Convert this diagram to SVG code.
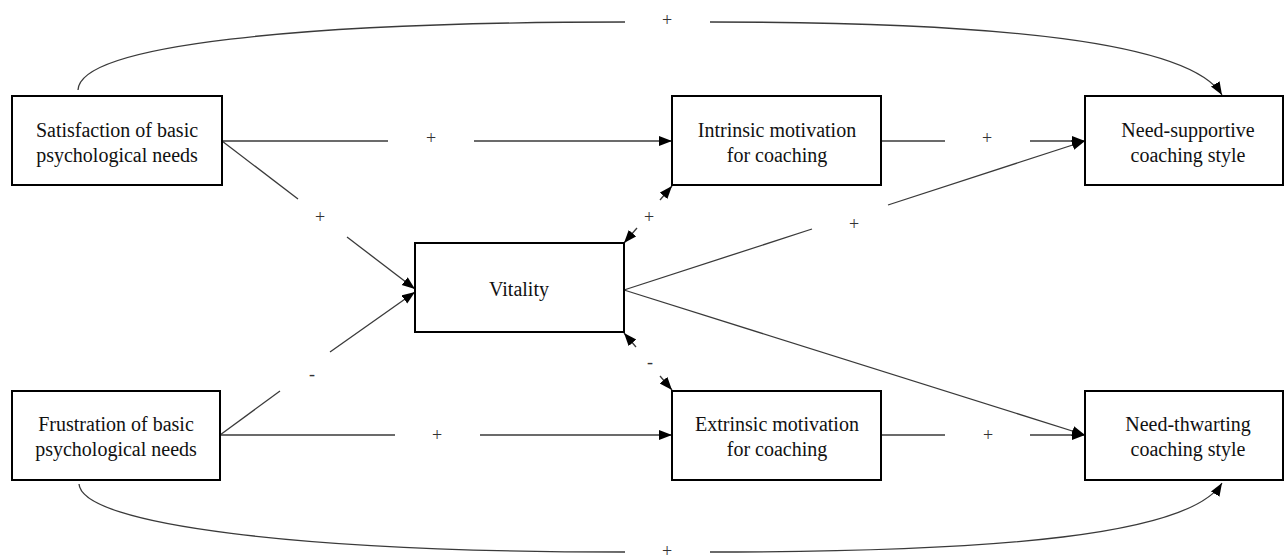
<svg xmlns="http://www.w3.org/2000/svg" width="1284" height="560" viewBox="0 0 1284 560">
<style>
.box{fill:#fff;stroke:#000;stroke-width:2}
.t{font-family:"Liberation Serif","Times New Roman",serif;font-size:20px;fill:#111;text-anchor:middle}
.lbl{font-family:"Liberation Serif","Times New Roman",serif;font-size:18px;fill:#333;text-anchor:middle}
.c{fill:none;stroke:#3a3a3a;stroke-width:1.3}
.a{marker-end:url(#ah)}
</style>
<defs>
<marker id="ah" markerUnits="userSpaceOnUse" markerWidth="14" markerHeight="12" refX="13" refY="5" orient="auto">
<path d="M0,0 L13,5 L0,10 z" fill="#000"/>
</marker>
</defs>
<rect width="1284" height="560" fill="#fff"/>
<g id="connectors">
<path class="c" d="M78,90 C80,45 300,22 625,22"/>
<path class="c a" d="M710,22 C1000,22 1190,42 1222,95"/>
<text class="lbl" x="667" y="26">+</text>
<path class="c" d="M79,484 C82,525 300,552 625,552"/>
<path class="c a" d="M710,552 C1000,552 1190,535 1222,483"/>
<text class="lbl" x="667" y="557">+</text>
<path class="c" d="M222,141 L388,141"/>
<path class="c a" d="M474,141 L672,141"/>
<text class="lbl" x="431" y="144">+</text>
<path class="c" d="M881,141 L945,141"/>
<path class="c a" d="M1030,141 L1085,141"/>
<text class="lbl" x="987" y="144">+</text>
<path class="c" d="M222,141 L298,199"/>
<path class="c a" d="M347,237 L415,289"/>
<text class="lbl" x="320" y="223">+</text>
<path class="c" d="M220,435 L280,391"/>
<path class="c a" d="M330,352 L415,292"/>
<text class="lbl" x="312" y="380">-</text>
<path class="c" d="M220,435 L395,435"/>
<path class="c a" d="M480,435 L672,435"/>
<text class="lbl" x="437" y="441">+</text>
<path class="c" d="M881,435 L945,435"/>
<path class="c a" d="M1030,435 L1085,435"/>
<text class="lbl" x="988" y="441">+</text>
<path class="c" d="M624,290 L812,229"/>
<path class="c a" d="M888,205 L1085,141"/>
<text class="lbl" x="854" y="230">+</text>
<path class="c a" d="M624,290 L1085,435"/>
<path class="c a" d="M660,200 L672,186"/>
<path class="c a" d="M637,228 L624,243"/>
<text class="lbl" x="649" y="223">+</text>
<path class="c a" d="M636,347 L624,333"/>
<path class="c a" d="M660,376 L672,390"/>
<text class="lbl" x="650" y="368">-</text>
</g>
<g id="satisfaction">
<rect class="box" x="12" y="96" width="210" height="89"/>
<text class="t" x="117" y="137">Satisfaction of basic</text>
<text class="t" x="117" y="162">psychological needs</text>
</g>
<g id="frustration">
<rect class="box" x="12" y="391" width="208" height="89"/>
<text class="t" x="116" y="431">Frustration of basic</text>
<text class="t" x="116" y="456">psychological needs</text>
</g>
<g id="vitality">
<rect class="box" x="415" y="243" width="209" height="89"/>
<text class="t" x="519" y="296">Vitality</text>
</g>
<g id="intrinsic">
<rect class="box" x="672" y="96" width="209" height="89"/>
<text class="t" x="777" y="137">Intrinsic motivation</text>
<text class="t" x="777" y="162">for coaching</text>
</g>
<g id="extrinsic">
<rect class="box" x="672" y="391" width="209" height="89"/>
<text class="t" x="777" y="431">Extrinsic motivation</text>
<text class="t" x="777" y="456">for coaching</text>
</g>
<g id="need-supportive">
<rect class="box" x="1085" y="96" width="198" height="89"/>
<text class="t" x="1188" y="137">Need-supportive</text>
<text class="t" x="1188" y="162">coaching style</text>
</g>
<g id="need-thwarting">
<rect class="box" x="1085" y="391" width="198" height="89"/>
<text class="t" x="1188" y="431">Need-thwarting</text>
<text class="t" x="1188" y="456">coaching style</text>
</g>
</svg>
